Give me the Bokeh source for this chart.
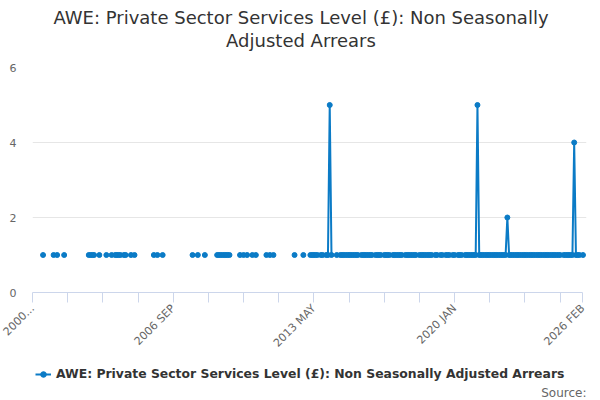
import math
from bokeh.plotting import figure
from bokeh.layouts import column
from bokeh.models import FixedTicker, Legend, LegendItem, ColumnDataSource, Range1d, Label
from bokeh.embed import file_html
from bokeh.resources import INLINE

n = float("nan")

years = list(range(2000, 2027))
month_names = ["JAN", "FEB", "MAR", "APR", "MAY", "JUN",
               "JUL", "AUG", "SEP", "OCT", "NOV", "DEC"]

# monthly values, one row per year (nan = no value)
values = (
    [n, n, n, n, n, n, 1, n, n, n, n, n] +   # 2000
    [1, n, 1, n, n, n, 1, n, n, n, n, n] +   # 2001
    [n, n, n, n, n, n, n, n, 1, 1, 1, 1] +   # 2002
    [n, n, 1, n, n, n, 1, n, n, 1, n, 1] +   # 2003
    [1, 1, 1, n, 1, 1, n, n, 1, n, 1, n] +   # 2004
    [n, n, n, n, n, n, n, n, n, 1, n, 1] +   # 2005
    [n, n, 1, n, n, n, n, n, n, n, n, n] +   # 2006
    [n, n, n, n, n, n, n, 1, n, n, 1, n] +   # 2007
    [n, n, 1, n, n, n, n, n, n, 1, 1, 1] +   # 2008
    [1, 1, 1, 1, 1, n, n, n, n, n, 1, n] +   # 2009
    [1, n, 1, n, n, 1, n, 1, n, n, n, n] +   # 2010
    [n, 1, n, 1, n, 1, n, n, n, n, n, n] +   # 2011
    [n, n, n, n, n, 1, n, n, n, n, 1, n] +   # 2012
    [n, n, 1, 1, 1, 1, 1, n, 1, 1, n, 1] +   # 2013
    [1, 5, 1, n, n, 1, n, 1, 1, 1, 1, 1] +   # 2014
    [1, 1, 1, 1, 1, 1, n, 1, 1, 1, 1, 1] +   # 2015
    [1, 1, n, 1, 1, 1, 1, n, 1, 1, 1, 1] +   # 2016
    [n, 1, 1, 1, 1, 1, 1, n, 1, 1, 1, 1] +   # 2017
    [1, 1, 1, n, 1, 1, 1, 1, 1, 1, 1, 1] +   # 2018
    [n, 1, 1, n, 1, 1, n, 1, 1, 1, n, 1] +   # 2019
    [1, n, 1, 1, 1, n, 1, 1, 1, 1, 1, 1] +   # 2020
    [1, 5, 1, 1, 1, 1, 1, 1, 1, 1, 1, 1] +   # 2021
    [1, 1, 1, 1, 1, 1, 2, 1, 1, 1, 1, 1] +   # 2022
    [1, 1, 1, 1, 1, 1, 1, 1, 1, 1, 1, 1] +   # 2023
    [1, 1, 1, 1, 1, 1, 1, 1, 1, 1, 1, 1] +   # 2024
    [1, n, 1, 1, 1, 1, 1, 1, 4, 1, 1, 1] +   # 2025
    [n, 1]                                   # 2026
)

categories = [f"{y} {m}" for y in years for m in month_names][:len(values)]

tick_positions = [0, 20, 40, 60, 80, 100, 120, 140, 160, 180, 200, 220, 240, 260, 280, 300, 313]
tick_labels = {0: "2000...", 80: "2006 SEP", 160: "2013 MAY", 240: "2020 JAN", 313: "2026 FEB"}
y_ticks = [0, 2, 4, 6]

title_lines = ["AWE: Private Sector Services Level (£): Non Seasonally", "Adjusted Arrears"]
series_name = "AWE: Private Sector Services Level (£): Non Seasonally Adjusted Arrears"
source_text = "Source:"

BLUE = "#0b7bc6"
FONT = "DejaVu Sans"
LEFT, RIGHT = 32, 14          # shared side borders of all three stacked figures


def strip(h, yr, top=0):
    # frame spans page x 32..586, so data x equals page x
    f = figure(width=600, height=h, output_backend="svg", toolbar_location=None, title=None,
               x_range=Range1d(LEFT, 600 - RIGHT), y_range=yr,
               x_axis_location=None, y_axis_location=None,
               min_border=0, min_border_left=LEFT, min_border_right=RIGHT, min_border_top=top)
    f.outline_line_color = None
    f.background_fill_color = "white"
    f.border_fill_color = "white"
    f.xgrid.visible = False
    f.ygrid.visible = False
    return f


src = ColumnDataSource(dict(x=list(range(len(values))), y=values, cat=categories))

# ---- title strip (top 59 px) ----
p_top = strip(59, Range1d(0, 59))
for txt, yv in zip(title_lines, [42, 19]):
    p_top.add_layout(Label(x=300.5, y=yv, text=txt, text_align="center", text_baseline="middle",
                           text_font=FONT, text_font_size="18px", text_color="#333333"))

# ---- main chart ----
p = figure(width=600, height=298, output_backend="svg", toolbar_location=None, title=None,
           x_range=Range1d(0, 315), y_range=Range1d(0, 6),
           min_border_left=LEFT, min_border_right=RIGHT, min_border_top=8, min_border_bottom=64)
p.outline_line_color = None
p.background_fill_color = "white"
p.border_fill_color = "white"

p.line("x", "y", source=src, line_color=BLUE, line_width=2)
p.scatter("x", "y", source=src, size=5, fill_color=BLUE, line_color=BLUE)

xa = p.xaxis[0]
xa.ticker = FixedTicker(ticks=tick_positions, minor_ticks=[])
xa.bounds = (0, len(values) - 1)
xa.major_label_overrides = {t: tick_labels.get(t, "") for t in tick_positions}
xa.major_label_orientation = math.pi / 4
xa.axis_line_color = "#ccd6eb"
xa.major_tick_line_color = "#ccd6eb"
xa.major_tick_out = 10
xa.major_tick_in = 0
xa.minor_tick_line_color = None
xa.major_label_text_font = FONT
xa.major_label_text_font_size = "11px"
xa.major_label_text_color = "#666666"
xa.major_label_standoff = 4

ya = p.yaxis[0]
ya.ticker = FixedTicker(ticks=y_ticks, minor_ticks=[])
ya.axis_line_color = None
ya.major_tick_line_color = None
ya.major_tick_out = 0
ya.major_tick_in = 0
ya.minor_tick_line_color = None
ya.major_label_text_font = FONT
ya.major_label_text_font_size = "11px"
ya.major_label_text_color = "#666666"
ya.major_label_standoff = 16

p.xgrid.grid_line_color = None
p.ygrid.grid_line_color = "#e6e6e6"
p.ygrid.ticker = FixedTicker(ticks=y_ticks)

# ---- legend + source strip (bottom 43 px); the series itself lies outside this view ----
p_bot = strip(43, Range1d(100, 137), top=6)
leg_line = p_bot.line("x", "y", source=src, line_color=BLUE, line_width=2)
leg_dot = p_bot.scatter("x", "y", source=src, size=5, fill_color=BLUE, line_color=BLUE)
legend = Legend(items=[LegendItem(label=series_name, renderers=[leg_line, leg_dot])],
                location="top_left", orientation="horizontal",
                padding=0, margin=3, spacing=0, glyph_width=16, glyph_height=14,
                label_height=14, label_standoff=5,
                border_line_color=None, background_fill_alpha=0,
                label_text_font=FONT, label_text_font_size="12.4px",
                label_text_font_style="bold", label_text_color="#333333")
p_bot.add_layout(legend)
p_bot.add_layout(Label(x=586, y=108, text=source_text, text_align="right", text_baseline="middle",
                       text_font=FONT, text_font_size="12px", text_color="#666666"))

layout = column(p_top, p, p_bot, spacing=0)
open("out.html", "w").write(file_html(layout, INLINE))
